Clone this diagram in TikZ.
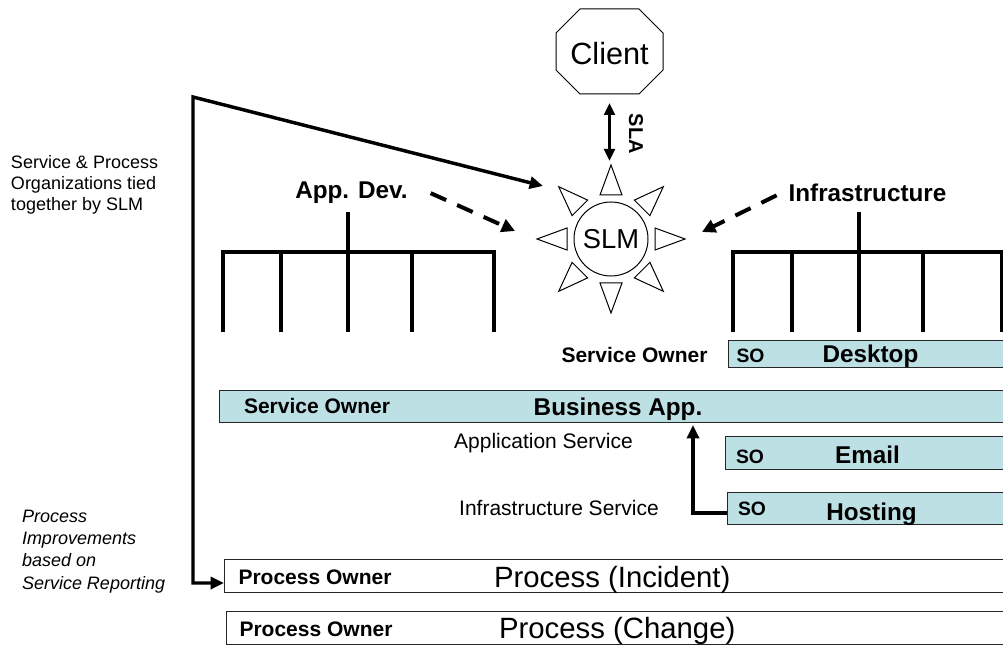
\documentclass[tikz,border=0pt]{standalone}
\usepackage{fontspec}
\setmainfont{Liberation Sans}
\usetikzlibrary{arrows.meta}
\definecolor{svcfill}{RGB}{188,224,228}

\begin{document}
\begin{tikzpicture}[x=0.75pt, y=-0.75pt,
  every node/.style={inner sep=0pt, outer sep=0pt},
  outline/.style={draw=black, line width=0.75pt},
  svcbox/.style={draw=black!85, line width=0.75pt, fill=svcfill},
  procbox/.style={draw=black!85, line width=0.75pt, fill=white},
  orgline/.style={line width=2.6pt, line join=miter},
  heavy/.style={line width=2.6pt, line join=miter},
  headtip/.tip={Triangle[length=10pt,width=9pt]},
  smalltip/.tip={Triangle[length=9pt,width=8pt]},
  dasharrow/.style={line width=3pt, dash pattern=on 12.75pt off 9pt, -{Triangle[length=10pt,width=10pt]}},
  unitname/.style={font=\bfseries\fontsize{18.2}{21}\selectfont, anchor=base},
  ownername/.style={font=\bfseries\fontsize{15.75}{18}\selectfont, anchor=base},
  sotag/.style={font=\bfseries\fontsize{14.5}{17}\selectfont, anchor=base},
  svclabel/.style={font=\fontsize{15.75}{18}\selectfont, anchor=base},
  proctext/.style={font=\fontsize{22}{26}\selectfont, anchor=base west},
  sidenote/.style={font=\fontsize{13.5}{16.1}\selectfont, align=left, anchor=north west},
]
\useasboundingbox (0,0) rectangle (1003,645);
\clip (0,0) rectangle (1003,645);

% ---- side notes ----
\node[sidenote] (tie) at (11,155) {Service \& Process\\Organizations tied\\together by SLM};
\node[sidenote, font=\itshape\fontsize{13.5}{16.7}\selectfont] (improve) at (22,510)
  {Process\\Improvements\\based on\\Service Reporting};

% ---- client ----
\node[minimum width=80.25pt, minimum height=63.75pt, text height=19.9pt, text depth=0pt,
      font=\fontsize{23}{27}\selectfont] (client) at (609.5,51.5) {Client};
\draw[outline] ([xshift=18pt]client.north west) -- ([xshift=-18pt]client.north east)
  -- ([yshift=-18pt]client.north east) -- ([yshift=18pt]client.south east)
  -- ([xshift=-18pt]client.south east) -- ([xshift=18pt]client.south west)
  -- ([yshift=18pt]client.south west) -- ([yshift=-18pt]client.north west) -- cycle;

% ---- SLM sun ----
\node[circle, outline, fill=white, minimum size=55.5pt, font=\fontsize{20.5}{24}\selectfont]
  (slm) at (611,239) {SLM};
\foreach \a in {0,45,...,315}
  \draw[outline, fill=white, shift={(slm.center)}, rotate=\a] (74,0) -- (44,11) -- (44,-11) -- cycle;
\coordinate (raytop) at ([yshift=55.5pt]slm.center);

% ---- SLA link ----
\draw[line width=2.25pt, {smalltip}-{smalltip}] ([yshift=-6.75pt]client.south)
  -- ([yshift=3pt]client.south |- raytop);
\node[font=\bfseries\fontsize{15}{18}\selectfont, rotate=-90] (sla) at (636,134) {SLA};

% ---- organisations ----
\node[unitname] (appdev) at (351.5,199) {App. Dev.};
\node[unitname] (infra) at (867.5,202) {Infrastructure};

\draw[orgline] (223,332) -- (223,252) -- (494,252) -- (494,332);
\foreach \x in {281,412} \draw[orgline] (\x,252) -- (\x,332);
\draw[orgline] (348,212) -- (348,332);

\draw[orgline] (733,332) -- (733,252) -- (1010,252);
\foreach \x in {792,923,1002} \draw[orgline] (\x,252) -- (\x,332);
\draw[orgline] (859,212) -- (859,332);

\coordinate (adtip) at (515,231);
\coordinate (iftip) at (702,232);
\draw[dasharrow] ([xshift=17.25pt]appdev.east) -- (adtip);
\draw[dasharrow] ([xshift=-9pt,yshift=-1.5pt]infra.west) -- (iftip);

% ---- services ----
\node[svcbox, minimum width=211.5pt, minimum height=20.25pt] (desk) at (869,353.5) {};
\node[svcbox, minimum width=593.25pt, minimum height=24pt] (ba) at (614.5,406) {};
\node[svcbox, minimum width=213.75pt, minimum height=24.75pt] (mail) at (867.5,452.5) {};
\node[svcbox, minimum width=212.25pt, minimum height=24pt] (host) at (868.5,508) {};

\node[ownername] (deskowner) at (634.5,363) {Service Owner};
\node[sotag] (deskso) at (750.5,363) {SO};
\node[unitname] (desktxt) at (870.5,363) {Desktop};

\node[ownername] (baowner) at (317,413) {Service Owner};
\node[unitname] (batxt) at (618,415) {Business App.};

\node[sotag] (mailso) at (750,463) {SO};
\node[unitname] (mailtxt) at (867.5,463) {Email};

\node[sotag] (hostso) at (752,515.5) {SO};
\node[unitname] (hosttxt) at (871.5,520) {Hosting};

\node[svclabel] (appsvc) at (543.5,448) {Application Service};
\node[svclabel] (infsvc) at (559,515) {Infrastructure Service};

\coordinate (riser) at (693,470);
\draw[line width=2.5pt, line join=miter, -{headtip}, shorten >=2.25pt]
  ([yshift=-3.75pt]host.west) -| (riser |- ba.south);

% ---- processes ----
\node[procbox, minimum width=589.5pt, minimum height=24.75pt] (inc) at (617,575.5) {};
\node[procbox, minimum width=588pt, minimum height=24.75pt] (chg) at (618,627.5) {};
\node[ownername] (incowner) at (315,584) {Process Owner};
\node[ownername] (chgowner) at (316,636) {Process Owner};
\node[proctext] (inctxt) at (494,587) {Process (Incident)};
\node[proctext] (chgtxt) at (499,638) {Process (Change)};

% ---- reporting loop ----
\coordinate (corner) at (193,97);
\coordinate (feed) at (543,186);
\coordinate (bend) at (193,583);
\draw[heavy, {headtip}-{headtip}] (feed) -- (corner) -- (bend) -- (inc.west |- bend);

\end{tikzpicture}
\end{document}
